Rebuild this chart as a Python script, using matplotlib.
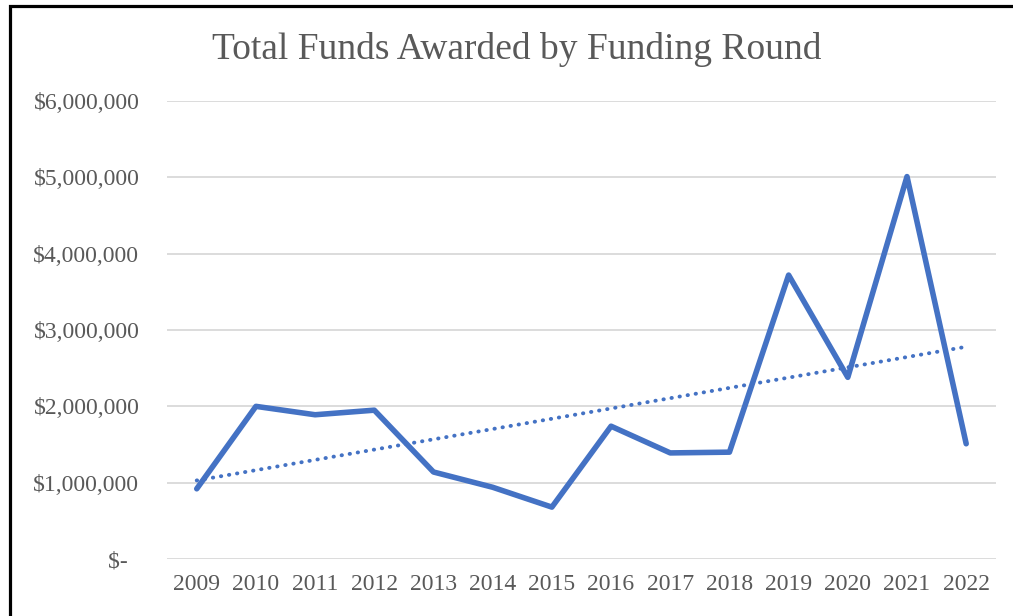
import numpy as np
import matplotlib.pyplot as plt
from matplotlib.patches import Rectangle
from matplotlib.ticker import FuncFormatter

years = ["2009", "2010", "2011", "2012", "2013", "2014", "2015",
         "2016", "2017", "2018", "2019", "2020", "2021", "2022"]
funds = [920000, 2000000, 1890000, 1950000, 1140000, 940000, 680000,
         1740000, 1390000, 1400000, 3720000, 2380000, 5010000, 1510000]

blue = "#4472C4"
grey = "#595959"
plt.rcParams["font.family"] = ["Liberation Serif", "DejaVu Serif"]

fig = plt.figure(figsize=(10.13, 6.16), dpi=100)
ax = fig.add_axes([0.165, 0.0925, 0.818, 0.7435])

x = np.arange(len(years))
ax.plot(x, funds, color=blue, lw=4.0, solid_joinstyle="round", solid_capstyle="round", zorder=3)

# linear trendline like excel
m, b = np.polyfit(x, funds, 1)
ax.plot(x, m * x + b, color=blue, lw=2.8, linestyle=(0, (0.1, 2.0)),
        dash_capstyle="round", zorder=2)

ax.set_xlim(-0.5, len(years) - 0.5)
ax.set_ylim(0, 6000000)
ax.set_xticks(x)
ax.set_xticklabels(years)
ax.set_yticks(np.arange(0, 6000001, 1000000))


def money(v, pos):
    if v == 0:
        return "$-  "
    return "${:,.0f}".format(v)


ax.yaxis.set_major_formatter(FuncFormatter(money))
ax.grid(axis="y", color="#D9D9D9", lw=1.3)
ax.set_axisbelow(True)
for s in ax.spines.values():
    s.set_visible(False)
ax.tick_params(length=0, labelsize=17, labelcolor=grey)
ax.tick_params(axis="y", pad=20)
ax.tick_params(axis="x", pad=11)

fig.text(0.51, 0.92, "Total Funds Awarded by Funding Round", ha="center", va="center",
         fontsize=27, color=grey)

# chart frame, cut off on the right and bottom
fig.patches.append(Rectangle((9.5 / 1013, -0.1), 1.2, 1.1 - 6 / 616, transform=fig.transFigure,
                             fill=False, edgecolor="black", lw=2.3))

fig.savefig("out.png", dpi=100)
